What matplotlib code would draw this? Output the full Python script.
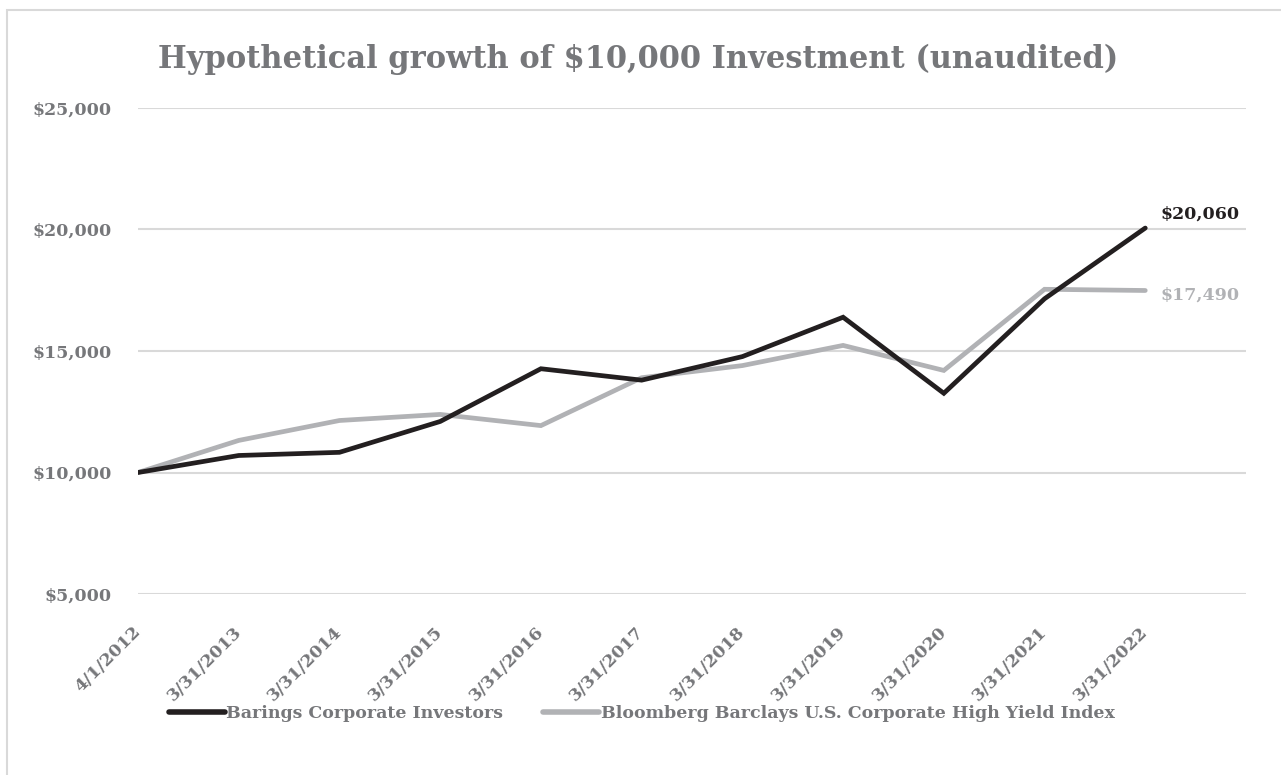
import matplotlib
matplotlib.use("Agg")
from matplotlib import pyplot as plt
from matplotlib.patches import Rectangle
from matplotlib.ticker import FuncFormatter
from matplotlib.transforms import ScaledTranslation
import numpy as np

dates = ["4/1/2012", "3/31/2013", "3/31/2014", "3/31/2015", "3/31/2016", "3/31/2017",
         "3/31/2018", "3/31/2019", "3/31/2020", "3/31/2021", "3/31/2022"]
barings = [10000, 10700, 10830, 12100, 14270, 13800, 14770, 16390, 13260, 17150, 20060]
bloomberg = [10000, 11320, 12140, 12390, 11930, 13900, 14400, 15230, 14200, 17540, 17490]
series_names = ["Barings Corporate Investors",
                "Bloomberg Barclays U.S. Corporate High Yield Index"]
y_ticks = [5000, 10000, 15000, 20000, 25000]

BLACK = "#231f20"
GRAY = "#b1b2b5"
TEXT = "#76777a"
FONT = "DejaVu Serif"

plt.rcParams["font.family"] = FONT
plt.rcParams["font.weight"] = "bold"

fig = plt.figure(figsize=(12.81, 7.75), dpi=100)
# chart frame, cut off at the right and bottom like the source
fig.patches.append(Rectangle((7 / 1281, -0.1), 1.2, 1 - 10 / 775 + 0.1,
                             transform=fig.transFigure, fill=False,
                             edgecolor="#d9d9d9", linewidth=1.5))

ax = fig.add_axes([138 / 1281, 1 - 594 / 775, 1108 / 1281, 486 / 775])
x = np.arange(len(dates))

ax.plot(x, barings, color=BLACK, linewidth=3.4, solid_capstyle="round",
        solid_joinstyle="miter", label=series_names[0], zorder=3)
ax.plot(x, bloomberg, color=GRAY, linewidth=3.4, solid_capstyle="round",
        solid_joinstyle="miter", label=series_names[1], zorder=2)

ax.set_xlim(0, len(dates))
ax.set_ylim(y_ticks[0], y_ticks[-1])
ax.set_yticks(y_ticks)
ax.yaxis.set_major_formatter(FuncFormatter(lambda v, p: "${:,.0f}".format(v)))
ax.set_xticks(x)
ax.set_xticklabels(dates, rotation=45, ha="right", va="top", rotation_mode="anchor")
ax.tick_params(axis="both", length=0, labelcolor=TEXT, labelsize=12.5)
ax.tick_params(axis="y", pad=19)
ax.tick_params(axis="x", pad=21)
shift = ScaledTranslation(-6 / 100, 0, fig.dpi_scale_trans)
for lab in ax.get_xticklabels():
    lab.set_transform(lab.get_transform() + shift)
ax.grid(axis="y", color="#d9d9d9", linewidth=1.5)
ax.set_axisbelow(True)
for s in ax.spines.values():
    s.set_visible(False)

# end-value labels
ax.annotate("${:,.0f}".format(barings[-1]), (x[-1], barings[-1]), xytext=(11, 4),
            textcoords="offset points", color=BLACK, fontsize=12.5, va="bottom", ha="left")
ax.annotate("${:,.0f}".format(bloomberg[-1]), (x[-1], bloomberg[-1]), xytext=(11, -3),
            textcoords="offset points", color=GRAY, fontsize=12.5, va="center", ha="left")

fig.text(0.498, 1 - 59 / 775, "Hypothetical growth of $10,000 Investment (unaudited)",
         ha="center", va="center", color=TEXT, fontsize=22)

leg = fig.legend(loc="center", bbox_to_anchor=(0.501, 1 - 714 / 775), ncol=2, frameon=False,
                 fontsize=12.5, handlelength=3.2, handletextpad=0.1, columnspacing=2.3)
for t in leg.get_texts():
    t.set_color(TEXT)
for h in leg.get_lines():
    h.set_linewidth(4)

fig.savefig("out.png", dpi=100)
